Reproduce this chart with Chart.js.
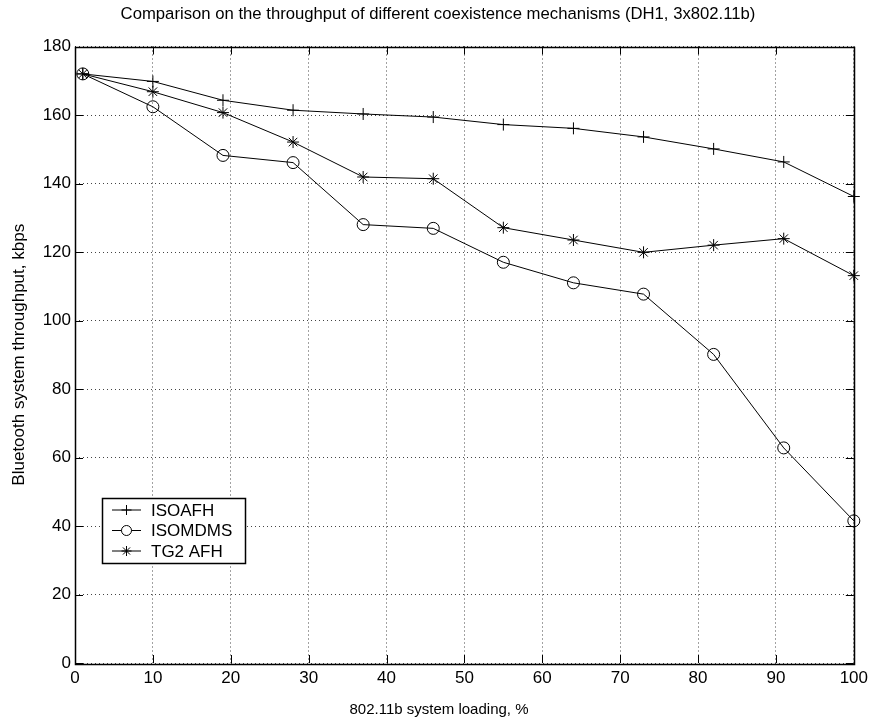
<!DOCTYPE html>
<html>
<head>
<meta charset="utf-8">
<script src="https://cdn.jsdelivr.net/npm/chart.js@4/dist/chart.umd.min.js"></script>
<style>
  html, body { margin: 0; padding: 0; background: #fff; }
  #wrap { width: 873px; height: 724px; }
</style>
</head>
<body>
<div id="wrap"><canvas id="chart" width="873" height="724"></canvas></div>
<script>
// 802.11b loading (%) where each run was measured
const loading = [1, 10, 19, 28, 37, 46, 55, 64, 73, 82, 91, 100];

// Bluetooth throughput, kbps
const isoAfh   = [172, 169.8, 164.3, 161.4, 160.3, 159.4, 157.2, 156.1, 153.6, 150.1, 146.3, 136.2];
const isoMdms  = [172, 162.4, 148.2, 146.1, 128.0, 126.9, 117.0, 111.0, 107.7, 90.1, 62.8, 41.5];
const tg2Afh   = [172, 166.8, 160.7, 152.1, 141.9, 141.4, 127.1, 123.5, 119.9, 122.0, 123.9, 113.1];

const seriesNames = ['ISOAFH', 'ISOMDMS', 'TG2 AFH'];
const markers = ['cross', 'circle', 'star'];

const xTicks = [0, 10, 20, 30, 40, 50, 60, 70, 80, 90, 100];
const yTicks = [0, 20, 40, 60, 80, 100, 120, 140, 160, 180];

const FONT = 'Liberation Sans, Arial, Helvetica, sans-serif';

function toPoints(ys) {
    return ys.map((y, i) => ({ x: loading[i], y: y }));
}

// matlab style frame: full box + inward tick marks on all four sides
const framePlugin = {
    id: 'frame',
    afterDraw(chart) {
        const { ctx, chartArea: a, scales } = chart;
        const tl = 8;
        ctx.save();
        ctx.strokeStyle = '#000';
        ctx.lineWidth = 1;
        ctx.beginPath();
        xTicks.forEach(v => {
            const px = Math.round(scales.x.getPixelForValue(v)) + 0.5;
            ctx.moveTo(px, a.bottom); ctx.lineTo(px, a.bottom - tl);
            ctx.moveTo(px, a.top); ctx.lineTo(px, a.top + tl);
        });
        yTicks.forEach(v => {
            const py = Math.round(scales.y.getPixelForValue(v)) + 0.5;
            ctx.moveTo(a.left, py); ctx.lineTo(a.left + tl, py);
            ctx.moveTo(a.right, py); ctx.lineTo(a.right - tl, py);
        });
        ctx.stroke();
        ctx.lineWidth = 1.5;
        ctx.strokeRect(Math.round(a.left) + 0.5, Math.round(a.top) + 0.5,
                       Math.round(a.right - a.left), Math.round(a.bottom - a.top));
        // title and x axis label, centred on the figure like the original
        ctx.fillStyle = '#000';
        ctx.textAlign = 'center';
        ctx.textBaseline = 'middle';
        ctx.font = '16.7px ' + FONT;
        ctx.fillText('Comparison on the throughput of different coexistence mechanisms (DH1, 3x802.11b)', 438, 14);
        ctx.font = '15px ' + FONT;
        ctx.fillText('802.11b system loading, %', 439, 710);
        ctx.restore();
    }
};

// legend box sitting inside the axes, lower left
const boxLegendPlugin = {
    id: 'boxLegend',
    afterDraw(chart) {
        const ctx = chart.ctx;
        const bx = 102, by = 498, bw = 143, bh = 65;
        ctx.save();
        ctx.fillStyle = '#fff';
        ctx.fillRect(bx, by, bw, bh);
        ctx.strokeStyle = '#000';
        ctx.lineWidth = 1.5;
        ctx.strokeRect(bx + 0.5, by + 0.5, bw, bh);
        ctx.font = '17px ' + FONT;
        ctx.textBaseline = 'middle';
        chart.data.datasets.forEach((ds, i) => {
            const y = by + 12 + i * 20.5;
            ctx.lineWidth = 1;
            ctx.strokeStyle = '#000';
            ctx.beginPath();
            ctx.moveTo(112, y); ctx.lineTo(141, y);
            ctx.stroke();
            ctx.fillStyle = '#fff';
            Chart.helpers.drawPoint(ctx, {
                pointStyle: ds.pointStyle, radius: 5, borderWidth: 1
            }, 126.5, y);
            ctx.fillStyle = '#000';
            ctx.fillText(ds.label, 151, y + 1);
        });
        ctx.restore();
    }
};

const datasets = [isoAfh, isoMdms, tg2Afh].map((ys, i) => ({
    label: seriesNames[i],
    data: toPoints(ys),
    borderColor: '#000',
    borderWidth: 1,
    pointStyle: markers[i],
    pointRadius: 6,
    pointBorderColor: '#000',
    pointBackgroundColor: 'rgba(0,0,0,0)',
    pointBorderWidth: 1,
    tension: 0,
    clip: false
}));

new Chart(document.getElementById('chart'), {
    type: 'line',
    data: { datasets: datasets },
    options: {
        responsive: false,
        animation: false,
        layout: { padding: { left: 0, right: 18, top: 46.5, bottom: 0 } },
        scales: {
            x: {
                type: 'linear',
                min: 0, max: 100,
                afterBuildTicks: s => { s.ticks = xTicks.map(v => ({ value: v })); },
                afterFit: s => { s.height = 61; },
                ticks: { color: '#000', font: { family: FONT, size: 17 }, padding: 5, maxRotation: 0, autoSkip: false },
                grid: { color: '#444', lineWidth: 1, drawTicks: false },
                border: { display: false, dash: [1, 3] }
            },
            y: {
                type: 'linear',
                min: 0, max: 180,
                afterBuildTicks: s => { s.ticks = yTicks.map(v => ({ value: v })); },
                afterFit: s => { s.width = 75; },
                ticks: { color: '#000', font: { family: FONT, size: 17 }, padding: 4, autoSkip: false },
                grid: { color: '#444', lineWidth: 1, drawTicks: false },
                border: { display: false, dash: [1, 3] },
                title: { display: true, text: 'Bluetooth system throughput, kbps', color: '#000',
                         font: { family: FONT, size: 17 }, padding: { top: 9, bottom: 0 } }
            }
        },
        plugins: {
            legend: { display: false },
            tooltip: { enabled: false },
            title: { display: false }
        }
    },
    plugins: [framePlugin, boxLegendPlugin]
});
</script>
</body>
</html>
